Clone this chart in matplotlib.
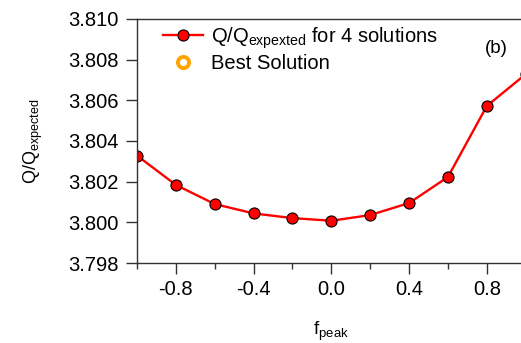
import matplotlib.pyplot as plt
from matplotlib.ticker import MultipleLocator

plt.rcParams['font.family'] = ['Liberation Sans', 'DejaVu Sans']

# Q/Q_expected as a function of f_peak
f_peak = [-1.0, -0.8, -0.6, -0.4, -0.2, 0.0, 0.2, 0.4, 0.6, 0.8, 1.0]
q_ratio = [3.80328, 3.80184, 3.80090, 3.80044, 3.80021, 3.80008,
           3.80036, 3.80095, 3.80223, 3.80572, 3.80728]

x_ticks = [-0.8, -0.4, 0.0, 0.4, 0.8]
y_ticks = [3.798, 3.800, 3.802, 3.804, 3.806, 3.808, 3.810]

fig = plt.figure(figsize=(5.21, 3.43), dpi=100)
ax = fig.add_axes([0.263, 0.233, 0.746, 0.712])

ax.plot(f_peak, q_ratio, color='red', lw=1.7, marker='o', ms=8,
        mfc='red', mec='black', mew=0.8,
        label=r'Q/Q$_{\mathregular{expexted}}$ for 4 solutions')
ax.plot([], [], ls='none', marker='o', ms=8, mfc='none', mec='orange',
        mew=2.8, label='Best Solution')

ax.set_xlim(-1.0, 1.0)
ax.set_ylim(3.798, 3.810)
ax.set_xticks(x_ticks)
ax.set_xticklabels(['%.1f' % v for v in x_ticks])
ax.xaxis.set_minor_locator(MultipleLocator(0.2))
ax.set_yticks(y_ticks)
ax.set_yticklabels(['%.3f' % v for v in y_ticks])

ax.tick_params(axis='both', which='major', direction='out', length=8,
               width=1, color='#333333', labelsize=14.5)
ax.tick_params(axis='x', which='minor', direction='out', length=4.5,
               width=1, color='#333333')
ax.tick_params(axis='x', which='major', pad=4)
ax.tick_params(axis='y', which='major', pad=5)
for s in ax.spines.values():
    s.set_color('#333333')
    s.set_linewidth(1)

ax.set_xlabel(r'f$_{\mathregular{peak}}$', fontsize=13.5, labelpad=15)
ax.set_ylabel(r'Q/Q$_{\mathregular{expected}}$', fontsize=13, labelpad=17)

ax.text(0.895, 0.86, '(b)', transform=ax.transAxes, fontsize=13.5)
ax.legend(loc='upper left', bbox_to_anchor=(0.025, 1.04), frameon=False,
          fontsize=14.5, handlelength=2.0, handletextpad=0.4,
          labelspacing=0.15, borderpad=0.3)

fig.savefig('out.png', dpi=100)
